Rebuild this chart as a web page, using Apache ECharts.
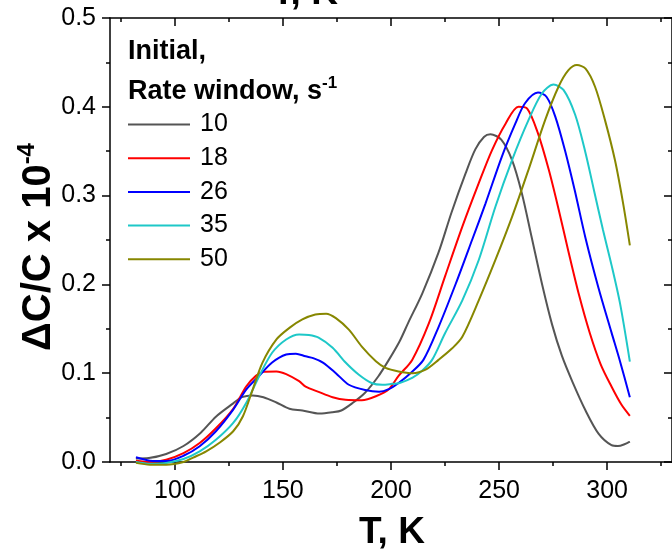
<!DOCTYPE html>
<html>
<head>
<meta charset="utf-8">
<script src="https://cdn.jsdelivr.net/npm/echarts@6/dist/echarts.min.js"></script>
<style>
html, body { margin: 0; padding: 0; background: #fff; }
#chart { width: 672px; height: 553px; }
</style>
</head>
<body>
<div id="chart"></div>
<script>
// Temperature axis ticks (K)
const majorTicksT = [100, 150, 200, 250, 300];
const minorTicksT = [75, 125, 175, 225, 275, 325];

// Rate windows (s^-1) and their line colours
const rateWindows = ['10', '18', '26', '35', '50'];
const rateColors = ['#555555', '#ff0000', '#0000ff', '#1ec8c8', '#878700'];

// DLTS-style capacitance transients: [T (K), ΔC/C x 1e-4]
const curve10 = [[82,0.004],[88,0.0045],[96,0.009],[104,0.018],[112,0.033],[119,0.051],[127,0.066],[131,0.073],[136,0.075],[141,0.073],[147,0.067],[153,0.060],[159,0.058],[167,0.0545],[173,0.056],[177,0.058],[182,0.066],[188,0.078],[194,0.096],[199,0.115],[204,0.136],[208,0.157],[214.5,0.19],[222,0.236],[228,0.281],[234.5,0.325],[239,0.352],[243,0.366],[246,0.369],[251,0.363],[256,0.34],[260.5,0.303],[265,0.254],[270,0.199],[274.5,0.155],[279,0.12],[284,0.09],[290,0.058],[296,0.032],[302,0.019],[305,0.018],[308,0.02],[310.5,0.023]];
const curve18 = [[82,0.0015],[88.5,0.0],[96,0.0026],[104,0.010],[111.5,0.0214],[119,0.038],[127,0.060],[133,0.085],[137.5,0.097],[141,0.1015],[147,0.102],[151.5,0.099],[157.5,0.091],[160.5,0.085],[166.5,0.079],[173,0.073],[179,0.070],[186.5,0.0695],[193,0.074],[199,0.082],[203.5,0.097],[209.8,0.115],[217.5,0.156],[225,0.209],[233,0.265],[240.6,0.314],[246.7,0.351],[253,0.381],[259,0.400],[263,0.398],[268,0.370],[273,0.329],[277.5,0.285],[282,0.238],[287,0.188],[292,0.145],[297,0.11],[302,0.085],[306.5,0.065],[310.5,0.052]];
const curve26 = [[82,0.0053],[88.5,0.0015],[96,0.001],[104,0.007],[111.5,0.0177],[119,0.0346],[127,0.059],[133,0.0816],[139,0.097],[145,0.112],[151.5,0.121],[156,0.122],[160.5,0.119],[164,0.117],[168.5,0.112],[174.5,0.100],[180.5,0.087],[188,0.081],[194.5,0.079],[199,0.082],[203.5,0.089],[209,0.1],[215,0.115],[222,0.152],[230,0.201],[237.5,0.25],[243.7,0.291],[251.3,0.344],[257.5,0.381],[262,0.404],[268,0.416],[272,0.411],[276,0.389],[280.6,0.35],[285,0.306],[290,0.252],[296,0.196],[302,0.146],[306,0.113],[310.5,0.073]];
const curve35 = [[82,0.0],[88.5,-0.002],[96,-0.001],[104,0.0034],[111.5,0.012],[119,0.025],[127,0.044],[133,0.0665],[139,0.0966],[145,0.123],[151.5,0.138],[157.5,0.1436],[162,0.143],[166.5,0.140],[173,0.1286],[179,0.112],[185,0.0985],[191,0.089],[196,0.087],[200.5,0.088],[204,0.089],[210,0.095],[214.5,0.103],[219,0.115],[225,0.145],[233,0.182],[240.6,0.2275],[248.3,0.2875],[256,0.34],[263.6,0.385],[269.8,0.415],[275.2,0.425],[279.8,0.419],[285.2,0.391],[289.8,0.35],[294,0.305],[298,0.262],[302,0.222],[306,0.178],[310.5,0.113]];
const curve50 = [[82,-0.001],[88.5,-0.003],[96,-0.003],[104,0.0],[108.5,0.005],[114.5,0.012],[120.5,0.0214],[127,0.0346],[131.5,0.0515],[136,0.0816],[140.5,0.1117],[147,0.138],[153,0.151],[159,0.1605],[165,0.166],[170,0.167],[174.5,0.162],[180.5,0.149],[186.5,0.130],[193,0.1135],[197.5,0.106],[203.5,0.102],[210,0.1],[216,0.104],[222,0.115],[228.3,0.128],[233,0.141],[240.6,0.182],[248.3,0.2275],[256,0.276],[263.6,0.329],[271.3,0.385],[277.5,0.4226],[282,0.441],[286,0.447],[290,0.443],[294.4,0.4226],[299,0.385],[303.6,0.34],[307.4,0.291],[310.5,0.244]];
const curves = [curve10, curve18, curve26, curve35, curve50];

const FONT = '"Liberation Sans", Arial, Helvetica, sans-serif';
const T_MIN = 70, T_MAX = 330;
const AXIS_LINE = { color: '#000', width: 1.5 };

function tempAxis(position, ticks, tickLen, inside, showLine, showLabels) {
  return {
    type: 'value', position: position, min: T_MIN, max: T_MAX,
    splitLine: { show: false },
    axisLine: { show: showLine, onZero: false, lineStyle: AXIS_LINE },
    axisTick: { show: true, customValues: ticks, length: tickLen, inside: inside, lineStyle: AXIS_LINE },
    axisLabel: showLabels
      ? { show: true, customValues: ticks, margin: 17, fontSize: 25, fontFamily: FONT, color: '#000' }
      : { show: false }
  };
}

function signalAxis(position, inside, showLabels) {
  return {
    type: 'value', position: position, min: 0, max: 0.5, interval: 0.1,
    splitLine: { show: false },
    axisLine: { show: true, onZero: false, lineStyle: AXIS_LINE },
    axisTick: { show: true, length: 8, inside: inside, lineStyle: AXIS_LINE },
    minorTick: { show: true, splitNumber: 2, length: 4, lineStyle: AXIS_LINE },
    axisLabel: showLabels
      ? { show: true, margin: 14, fontSize: 25, fontFamily: FONT, color: '#000', formatter: v => v.toFixed(1) }
      : { show: false }
  };
}

const chart = echarts.init(document.getElementById('chart'), null, { renderer: 'canvas' });

chart.setOption({
  animation: false,
  backgroundColor: '#fff',
  grid: { left: 110, top: 18, width: 564, height: 444, containLabel: false },
  xAxis: [
    tempAxis('bottom', majorTicksT, 8, false, true, true),
    tempAxis('bottom', minorTicksT, 4, false, false, false),
    tempAxis('top', majorTicksT, 8, true, true, false),
    tempAxis('top', minorTicksT, 4, true, false, false)
  ],
  yAxis: [
    signalAxis('left', false, true),
    signalAxis('right', true, false)
  ],
  legend: {
    orient: 'vertical', left: 128, top: 112, padding: 0,
    icon: 'rect', itemWidth: 62, itemHeight: 2, itemGap: 8.7,
    textStyle: { fontSize: 25, lineHeight: 25, fontFamily: FONT, color: '#000', padding: [0, 0, 0, 5] },
    data: rateWindows
  },
  series: curves.map((c, i) => ({
    name: rateWindows[i], type: 'line', data: c,
    xAxisIndex: 0, yAxisIndex: 0,
    symbol: 'none', smooth: 0.3, clip: false,
    color: rateColors[i],
    lineStyle: { width: 2, color: rateColors[i] }
  })),
  graphic: [
    { type: 'text', x: 128, y: 52, style: { text: 'Initial,', font: 'bold 27px ' + FONT, fill: '#000', textAlign: 'left', textVerticalAlign: 'middle' } },
    { type: 'text', x: 128, y: 90, style: {
        text: '{m|Rate window, s}{s|-1}',
        fill: '#000', textAlign: 'left', textVerticalAlign: 'middle',
        rich: {
          m: { fontSize: 27, fontWeight: 'bold', fontFamily: FONT, lineHeight: 30, verticalAlign: 'bottom' },
          s: { fontSize: 17, fontWeight: 'bold', fontFamily: FONT, lineHeight: 30, verticalAlign: 'top' }
        } } },
    { type: 'text', x: 37, y: 247, rotation: Math.PI / 2, style: {
        text: '{m|ΔC/C x 10}{s|-4}',
        fill: '#000', textAlign: 'center', textVerticalAlign: 'middle',
        rich: {
          m: { fontSize: 40, fontWeight: 'bold', fontFamily: FONT, lineHeight: 44, verticalAlign: 'bottom' },
          s: { fontSize: 24, fontWeight: 'bold', fontFamily: FONT, lineHeight: 44, verticalAlign: 'top' }
        } } },
    { type: 'text', x: 392, y: 533, style: { text: 'T, K', font: 'bold 37px ' + FONT, fill: '#000', textAlign: 'center', textVerticalAlign: 'middle' } },
    { type: 'text', x: 305, y: -6, style: { text: 'T, K', font: 'bold 37px ' + FONT, fill: '#000', textAlign: 'center', textVerticalAlign: 'middle' } }
  ]
});
</script>
</body>
</html>
